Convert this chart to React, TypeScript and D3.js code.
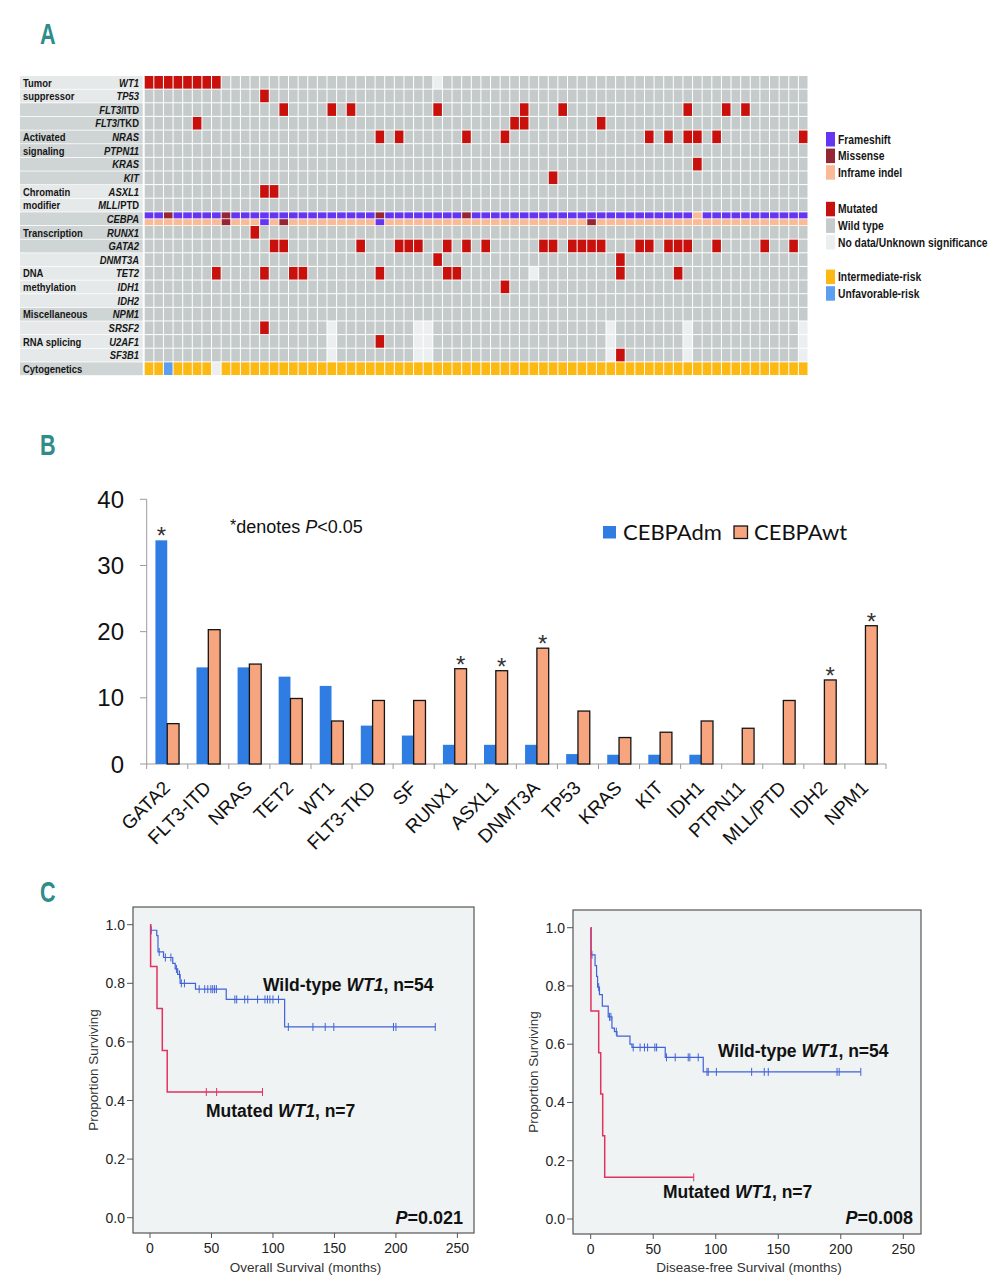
import React from 'react';
import * as d3 from 'd3';

const FONT = '"Liberation Sans", Arial, sans-serif';
const TEAL = '#2e8c8a';

// ---------------- Panel A : mutation landscape ----------------
const nPatients = 69;
const geneRows = [
  'WT1', 'TP53', 'FLT3/ITD', 'FLT3/TKD', 'NRAS', 'PTPN11', 'KRAS', 'KIT',
  'ASXL1', 'MLL/PTD', 'CEBPA', 'RUNX1', 'GATA2', 'DNMT3A', 'TET2', 'IDH1',
  'IDH2', 'NPM1', 'SRSF2', 'U2AF1', 'SF3B1', 'Cytogenetics',
];

// patient columns with a mutation, one list per gene row
const mutatedCols: number[][] = [
  [0, 1, 2, 3, 4, 5, 6, 7], // WT1
  [12], // TP53
  [14, 19, 21, 30, 39, 43, 56, 60, 62], // FLT3/ITD
  [5, 38, 39, 47], // FLT3/TKD
  [24, 26, 33, 37, 52, 54, 56, 57, 59, 68], // NRAS
  [], // PTPN11
  [57], // KRAS
  [42], // KIT
  [12, 13], // ASXL1
  [], // MLL/PTD
  [], // CEBPA (coded below)
  [11], // RUNX1
  [13, 14, 22, 26, 27, 28, 31, 33, 35, 41, 42, 44, 45, 46, 47, 51, 52, 54, 55, 56, 59, 64, 67], // GATA2
  [30, 49], // DNMT3A
  [7, 12, 15, 16, 24, 31, 32, 49, 55], // TET2
  [37], // IDH1
  [], // IDH2
  [], // NPM1
  [12], // SRSF2
  [24], // U2AF1
  [49], // SF3B1
  [], // cytogenetics (coded below)
];

// no data / unknown significance
const noDataCols: number[][] = [
  [30], [], [], [], [], [], [], [], [], [], [], [], [], [],
  [40], [], [], [],
  [19, 28, 29, 48, 56, 68],
  [19, 28, 29, 48, 56, 68],
  [19, 28, 29, 48, 56, 68],
  [],
];

// CEBPA alleles: F = frameshift, M = missense, I = inframe indel
const cebpaAllele1 =
  'FFMFFFFFMF' + 'FFFFFFFFFF' + 'FFFFMFFFFF' + 'FFFMFFFFFF' + 'FFFFFFFFFF' + 'FFFFFFFIFF' + 'FFFFFFFFF';
const cebpaAllele2 =
  'IIIIIIIIMI' + 'IIFIMIIIII' + 'IIIIFIIIII' + 'IIIIIIIIII' + 'IIIIIIMIII' + 'IIIIIIIIII' + 'IIIIIIIII';
// cytogenetics: I = intermediate, U = unfavorable, N = no data
const cytoCodes =
  'IIUIIIINII' + 'IIIIIIIIII' + 'IIIIIIIIII' + 'IIIIIIIIII' + 'IIIIIIIIII' + 'IIIIIIIIII' + 'IIIIIIIII';

const groupNames = [
  ['Tumor', 'suppressor'], ['Activated', 'signaling'], ['Chromatin', 'modifier'], ['Transcription'],
  ['DNA', 'methylation'], ['Miscellaneous'], ['RNA splicing'], ['Cytogenetics'],
];
const groupFirstRow = [0, 2, 8, 10, 13, 17, 18, 21];
const groupLastRow = [1, 7, 9, 12, 16, 17, 20, 21];
const groupTextRow = [0, 4, 8, 11, 14, 17, 19, 21];

const COL = {
  wild: '#c5cbcb',
  mut: '#c8100c',
  nodata: '#eceff0',
  F: '#6536f2',
  M: '#952634',
  I: '#f9ba96',
  inter: '#fcb913',
  unfav: '#5c9ff0',
  lblLight: '#e6e9e9',
  lblDark: '#cfd4d4',
};

const legendA = [
  { label: 'Frameshift', color: COL.F, gap: 0 },
  { label: 'Missense', color: COL.M, gap: 0 },
  { label: 'Inframe indel', color: COL.I, gap: 0 },
  { label: 'Mutated', color: COL.mut, gap: 20 },
  { label: 'Wild type', color: COL.wild, gap: 20 },
  { label: 'No data/Unknown significance', color: COL.nodata, gap: 20 },
  { label: 'Intermediate-risk', color: COL.inter, gap: 38 },
  { label: 'Unfavorable-risk', color: COL.unfav, gap: 38 },
];

// ---------------- Panel B : mutation frequencies ----------------
const bGenes = [
  'GATA2', 'FLT3-ITD', 'NRAS', 'TET2', 'WT1', 'FLT3-TKD', 'SF', 'RUNX1', 'ASXL1',
  'DNMT3A', 'TP53', 'KRAS', 'KIT', 'IDH1', 'PTPN11', 'MLL/PTD', 'IDH2', 'NPM1',
];
const dmValues = [33.8, 14.6, 14.6, 13.2, 11.8, 5.8, 4.3, 2.9, 2.9, 2.9, 1.5, 1.4, 1.4, 1.4, 0, 0, 0, 0];
const wtValues = [6.1, 20.3, 15.1, 9.9, 6.5, 9.6, 9.6, 14.4, 14.1, 17.5, 8.0, 4.0, 4.8, 6.5, 5.4, 9.6, 12.7, 20.9];
const starGenes = ['GATA2', 'RUNX1', 'ASXL1', 'DNMT3A', 'IDH2', 'NPM1'];
const starSeries = ['dm', 'wt', 'wt', 'wt', 'wt', 'wt'];
const bTicks = [0, 10, 20, 30, 40];

// ---------------- Panel C : Kaplan-Meier ----------------
type Step = [number, number];
const osWildSteps: Step[] = [
  [0.5, 0.981], [5.5, 0.963], [6.5, 0.907], [11, 0.888], [18.5, 0.868], [20.5, 0.849],
  [22.5, 0.83], [24.5, 0.8], [37, 0.78], [62, 0.745], [109.5, 0.651],
];
const osWildCensor = [
  1, 7.5, 12.5, 17, 21.5, 24, 25.5, 28, 40, 44.5, 47, 49.5, 51, 52.5, 54, 69, 70.5, 77, 79.5,
  87.5, 93.5, 95.5, 97.5, 100, 104.5, 112.5, 132.5, 142.5, 149.5, 198, 200, 232,
];
const osMutSteps: Step[] = [[0.5, 0.857], [5.7, 0.714], [10, 0.571], [14, 0.429]];
const osMutCensor = [45.8, 54.2, 91.5];

const dfsWildSteps: Step[] = [
  [0.3, 0.907], [3.5, 0.87], [4.7, 0.833], [5.5, 0.796], [7, 0.77], [9.3, 0.731], [14, 0.694],
  [17, 0.655], [19, 0.643], [21, 0.628], [31.4, 0.6], [33, 0.589], [59.6, 0.555], [90, 0.505],
];
const dfsWildCensor = [
  1, 6.4, 15, 16.2, 20.5, 34, 39.5, 43, 45.5, 51.3, 52.7, 60.6, 67.6, 78, 79.3, 86, 93, 94,
  100.5, 128.7, 138.8, 142, 197, 198.7, 216,
];
const dfsMutSteps: Step[] = [[0.2, 0.714], [6.4, 0.571], [8, 0.429], [9.6, 0.286], [11.2, 0.143]];
const dfsMutCensor = [82.4];

const kmXTicks = [0, 50, 100, 150, 200, 250];
const kmYTicks = [0, 0.2, 0.4, 0.6, 0.8, 1.0];
const KM_BLUE = '#4063d8';
const KM_RED = '#e2325f';

function GeneLabel({ name, x, y }: { name: string; x: number; y: number }) {
  const [a, b] = name.split('/');
  return (
    <text transform={`translate(${x},${y}) scale(0.9,1)`} textAnchor="end" fontSize={10.5}
      fontWeight="bold" fill="#161616">
      <tspan fontStyle="italic">{a}</tspan>
      {b !== undefined && <tspan>{'/' + b}</tspan>}
    </text>
  );
}

function PanelA() {
  const x = d3.scaleBand<number>().domain(d3.range(nPatients)).range([144.7, 808.5]);
  const y = d3.scaleBand<number>().domain(d3.range(geneRows.length)).range([76, 376]);
  const bw = x.bandwidth();
  const bh = y.bandwidth();
  const cells: React.ReactNode[] = [];

  geneRows.forEach((g, r) => {
    const y0 = y(r)!;
    for (let c = 0; c < nPatients; c++) {
      const x0 = x(c)!;
      if (g === 'CEBPA') {
        const h2 = (bh - 1) / 2;
        cells.push(
          <rect key={`c1-${c}`} x={x0} y={y0} width={bw - 1} height={h2 - 0.3}
            fill={(COL as any)[cebpaAllele1[c]]} />,
          <rect key={`c2-${c}`} x={x0} y={y0 + h2 + 0.5} width={bw - 1} height={h2 - 0.3}
            fill={(COL as any)[cebpaAllele2[c]]} />
        );
      } else {
        let fill = COL.wild;
        if (g === 'Cytogenetics') {
          const code = cytoCodes[c];
          fill = code === 'U' ? COL.unfav : code === 'N' ? COL.nodata : COL.inter;
        } else if (mutatedCols[r].includes(c)) fill = COL.mut;
        else if (noDataCols[r].includes(c)) fill = COL.nodata;
        cells.push(
          <rect key={`${r}-${c}`} x={x0} y={y0} width={bw - 1} height={bh - 1} fill={fill} />
        );
      }
    }
  });

  const labelBg: React.ReactNode[] = [];
  groupFirstRow.forEach((first, gi) => {
    for (let r = first; r <= groupLastRow[gi]; r++) {
      labelBg.push(
        <rect key={`lb${r}`} x={20} y={y(r)!} width={122.7} height={bh - 0.8}
          fill={gi % 2 === 0 ? COL.lblLight : COL.lblDark} />
      );
    }
  });

  return (
    <g>
      {labelBg}
      {cells}
      {groupNames.map((lines, gi) =>
        lines.map((ln, li) => (
          <text key={`g${gi}-${li}`}
            transform={`translate(23,${y(groupTextRow[gi] + li)! + bh / 2 + 3.7}) scale(0.9,1)`}
            fontSize={10.5} fontWeight="bold" fill="#161616">{ln}</text>
        ))
      )}
      {geneRows.map((g, r) =>
        g === 'Cytogenetics' ? null : (
          <GeneLabel key={g} name={g} x={139} y={y(r)! + bh / 2 + 3.7} />
        )
      )}
      {legendA.map((d, i) => {
        const top = 132 + i * 16.6 + d.gap;
        return (
          <g key={d.label}>
            <rect x={826} y={top} width={9} height={14.5} fill={d.color} />
            <text transform={`translate(838,${top + 11.5}) scale(0.86,1)`} fontSize={12}
              fontWeight="bold" fill="#161616">{d.label}</text>
          </g>
        );
      })}
    </g>
  );
}

function PanelB() {
  const x = d3.scaleBand<string>().domain(bGenes).range([146.7, 886])
    .paddingInner(0.425).paddingOuter(0.2125);
  const sub = d3.scaleBand<string>().domain(['dm', 'wt']).range([0, x.bandwidth()]);
  const y = d3.scaleLinear().domain([0, 40]).range([764, 499.3]);
  const step = x.step();
  const edge = (x(bGenes[0])! - (step - x.bandwidth()) / 2);
  const axisCol = '#9b9b9b';

  return (
    <g>
      {/* y axis */}
      <line x1={146.7} x2={146.7} y1={y(40)} y2={y(0)} stroke={axisCol} strokeWidth={1} />
      {bTicks.map((t) => (
        <g key={t}>
          <line x1={140} x2={146.7} y1={y(t)} y2={y(t)} stroke={axisCol} />
          <text x={124} y={y(t) + 8.5} textAnchor="end" fontSize={24} fill="#111">{t}</text>
        </g>
      ))}
      {/* x axis */}
      <line x1={146.7} x2={886} y1={y(0)} y2={y(0)} stroke={axisCol} />
      {d3.range(bGenes.length + 1).map((i) => (
        <line key={i} x1={edge + i * step} x2={edge + i * step} y1={y(0)} y2={y(0) + 5}
          stroke={axisCol} />
      ))}
      {bGenes.map((g, i) => (
        <g key={g}>
          {dmValues[i] > 0 && (
            <rect x={x(g)! + sub('dm')!} y={y(dmValues[i])} width={sub.bandwidth()}
              height={y(0) - y(dmValues[i])} fill="#2f7de2" />
          )}
          <rect x={x(g)! + sub('wt')!} y={y(wtValues[i])} width={sub.bandwidth()}
            height={y(0) - y(wtValues[i])} fill="#f6a57e" stroke="#151515" strokeWidth={1.3} />
          <text transform={`translate(${x(g)! + x.bandwidth() / 2 + 4},${y(0) + 25}) rotate(-45)`}
            textAnchor="end" fontSize={19} fill="#111">{g}</text>
        </g>
      ))}
      {starGenes.map((g, i) => {
        const idx = bGenes.indexOf(g);
        const s = starSeries[i];
        const v = s === 'dm' ? dmValues[idx] : wtValues[idx];
        const cx = x(g)! + sub(s)! + sub.bandwidth() / 2;
        return (
          <text key={g} x={cx} y={y(v) + 4} textAnchor="middle" fontSize={24} fill="#333">*</text>
        );
      })}
      <text x={230} y={533} fontSize={18} fill="#111">
        <tspan fontSize={16} dy={-2}>*</tspan>
        <tspan dy={2}>denotes </tspan>
        <tspan fontStyle="italic">P</tspan>
        <tspan>{'<0.05'}</tspan>
      </text>
      <rect x={603} y={526} width={13} height={12.5} fill="#2f7de2" />
      <text x={623} y={539.5} fontSize={22} fontFamily="Lato, 'Open Sans', sans-serif" fill="#111">CEBPAdm</text>
      <rect x={734} y={526} width={13.5} height={12.5} fill="#f6a57e" stroke="#151515" strokeWidth={1.3} />
      <text x={754} y={539.5} fontSize={22} fontFamily="Lato, 'Open Sans', sans-serif" fill="#111">CEBPAwt</text>
    </g>
  );
}

type KMProps = {
  frame: { x0: number; x1: number; y0: number; y1: number };
  xRange: [number, number];
  yRange: [number, number];
  wildSteps: Step[];
  wildCensor: number[];
  mutSteps: Step[];
  mutCensor: number[];
  xTitle: string;
  yTitleX: number;
  wildPos: [number, number];
  mutPos: [number, number];
  pPos: [number, number];
  pValue: string;
};

function survAt(steps: Step[], t: number) {
  let s = 1;
  for (const [st, sv] of steps) if (st <= t) s = sv;
  return s;
}

function KMPlot(p: KMProps) {
  const x = d3.scaleLinear().domain([0, 250]).range(p.xRange);
  const y = d3.scaleLinear().domain([0, 1]).range(p.yRange);
  const { x0, x1, y0, y1 } = p.frame;

  const stepPath = (steps: Step[], end: number) => {
    let d = `M${x(0)},${y(1)}`;
    steps.forEach(([t, s]) => {
      d += `H${x(t)}V${y(s)}`;
    });
    d += `H${x(end)}`;
    return d;
  };

  const curve = (steps: Step[], censor: number[], color: string, w: number) => (
    <g>
      <path d={stepPath(steps, d3.max(censor)!)} fill="none" stroke={color} strokeWidth={w} />
      {censor.map((t, i) => (
        <line key={i} x1={x(t)} x2={x(t)} y1={y(survAt(steps, t)) - 4} y2={y(survAt(steps, t)) + 4}
          stroke={color} strokeWidth={1} />
      ))}
    </g>
  );

  return (
    <g>
      <rect x={x0} y={y0} width={x1 - x0} height={y1 - y0} fill="#eff3f3" stroke="#555" strokeWidth={1.2} />
      {kmYTicks.map((t) => (
        <g key={t}>
          <line x1={x0 - 6} x2={x0} y1={y(t)} y2={y(t)} stroke="#555" />
          <text x={x0 - 8} y={y(t) + 5} textAnchor="end" fontSize={14} fill="#222">{t.toFixed(1)}</text>
        </g>
      ))}
      {kmXTicks.map((t) => (
        <g key={t}>
          <line x1={x(t)} x2={x(t)} y1={y1} y2={y1 + 5} stroke="#555" />
          <text x={x(t)} y={y1 + 20} textAnchor="middle" fontSize={14} fill="#222">{t}</text>
        </g>
      ))}
      <text x={(x0 + x1) / 2 + 2} y={1272} textAnchor="middle" fontSize={13.5} fill="#333">{p.xTitle}</text>
      <text transform={`translate(${p.yTitleX},${(y0 + y1) / 2 - 0}) rotate(-90)`} textAnchor="middle"
        fontSize={13.5} fill="#333">Proportion Surviving</text>
      {curve(p.wildSteps, p.wildCensor, KM_BLUE, 1.2)}
      {curve(p.mutSteps, p.mutCensor, KM_RED, 1.5)}
      <text x={p.wildPos[0]} y={p.wildPos[1]} fontSize={17.5} fontWeight="bold" fill="#111">
        Wild-type <tspan fontStyle="italic">WT1</tspan>, n=54
      </text>
      <text x={p.mutPos[0]} y={p.mutPos[1]} fontSize={17.5} fontWeight="bold" fill="#111">
        Mutated <tspan fontStyle="italic">WT1</tspan>, n=7
      </text>
      <text x={p.pPos[0]} y={p.pPos[1]} textAnchor="end" fontSize={18} fontWeight="bold" fill="#111">
        <tspan fontStyle="italic">P</tspan>={p.pValue}
      </text>
    </g>
  );
}

function PanelLabel({ t, x, y }: { t: string; x: number; y: number }) {
  return (
    <text transform={`translate(${x},${y}) scale(0.72,1)`} fontSize={30} fontWeight="bold" fill={TEAL}>{t}</text>
  );
}

export default function App() {
  return (
    <svg width={1004} height={1280} style={{ position: 'absolute', left: 0, top: 0 }} fontFamily={FONT}>
      <rect width={1004} height={1280} fill="#fff" />
      <PanelLabel t="A" x={40} y={44} />
      <PanelLabel t="B" x={40} y={455} />
      <PanelLabel t="C" x={40} y={902} />
      <PanelA />
      <PanelB />
      <KMPlot
        frame={{ x0: 133, x1: 474, y0: 907, y1: 1233 }}
        xRange={[150, 457.4]}
        yRange={[1217.7, 924.7]}
        wildSteps={osWildSteps}
        wildCensor={osWildCensor}
        mutSteps={osMutSteps}
        mutCensor={osMutCensor}
        xTitle="Overall Survival (months)"
        yTitleX={98}
        wildPos={[263, 991]}
        mutPos={[206, 1117]}
        pPos={[463, 1224]}
        pValue="0.021"
      />
      <KMPlot
        frame={{ x0: 573, x1: 921, y0: 910, y1: 1234 }}
        xRange={[590.7, 903.3]}
        yRange={[1219, 927.7]}
        wildSteps={dfsWildSteps}
        wildCensor={dfsWildCensor}
        mutSteps={dfsMutSteps}
        mutCensor={dfsMutCensor}
        xTitle="Disease-free Survival (months)"
        yTitleX={538}
        wildPos={[718, 1057]}
        mutPos={[663, 1198]}
        pPos={[913, 1224]}
        pValue="0.008"
      />
    </svg>
  );
}
